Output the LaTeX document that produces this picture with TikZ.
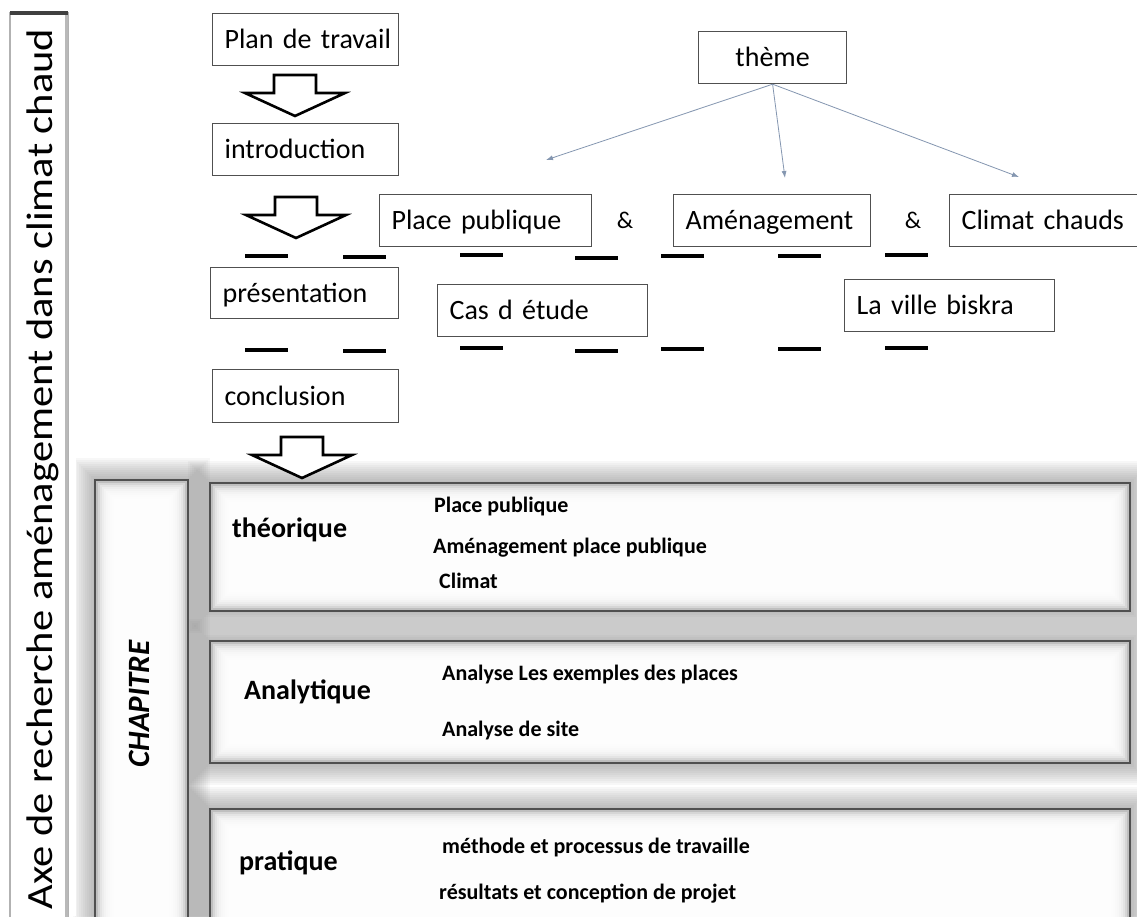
\documentclass[tikz,border=0pt]{standalone}
\usepackage{fontspec}
\setmainfont{Carlito}
\usetikzlibrary{arrows.meta}

\definecolor{bleugris}{HTML}{8496B0}
\definecolor{bordgris}{HTML}{505050}

\tikzset{
  boite/.style={draw=bordgris, line width=1.2pt, fill=white, anchor=north west,
    minimum height=52pt, inner xsep=12pt, inner ysep=0pt, align=left,
    font=\fontsize{28}{30}\selectfont, text height=21pt, text depth=3pt},
  titre/.style={anchor=base west, inner sep=0pt, font=\bfseries\fontsize{28}{30}\selectfont},
  item/.style={anchor=base west, inner sep=0pt, font=\bfseries\fontsize{22}{24}\selectfont},
  fine/.style={bleugris, line width=0.8pt, -{Latex[length=7pt,width=5pt]}},
  tiret/.style={line width=4pt},
  flechebas/.pic={\draw[line width=2.6pt, fill=white, line join=miter]
    (-21,0) -- (21,0) -- (21,18) -- (50,18) -- (0,41) -- (-50,18) -- (-21,18) -- cycle;}
}

% halo gris autour d'un cadre
\newcommand{\ombre}[4]{%
  \foreach \i in {2,4,...,22}
    \fill[gray, opacity=0.06] (#1-\i,#2-\i) rectangle (#3+\i,#4+\i);}
% cadre a bord flou
\newcommand{\cadre}[4]{%
  \fill[gray!50] (#1,#2) rectangle (#3,#4);
  \foreach \i in {3,5,...,19}
    \fill[white, opacity=0.36] (#1+\i,#2+\i) rectangle (#3-\i,#4-\i);
  \draw[bordgris, line width=1.3pt] (#1,#2) rectangle (#3,#4);}

\begin{document}
\begin{tikzpicture}[x=1pt, y=-1pt]
\useasboundingbox (0,0) rectangle (1137,916);
\clip (0,0) rectangle (1137,916);
\fill[white] (0,0) rectangle (1137,916);

% Chapitres
\ombre{95}{480}{188}{960}
\ombre{210}{483}{1130}{611}
\ombre{210}{641}{1130}{763}
\ombre{210}{809}{1130}{960}
\cadre{95}{480}{188}{960}
\cadre{210}{483}{1130}{611}
\cadre{210}{641}{1130}{763}
\cadre{210}{809}{1130}{960}

% Bande verticale de gauche
\fill[white] (0,0) rectangle (76,916);
\draw[gray!60, line width=1.2pt] (10,13) rectangle (68,940);
\draw[gray!55, line width=3pt] (66,15) -- (66,940);
\draw[black!75, line width=3.5pt] (10,13) -- (68,13);
\node[rotate=90, xscale=1.15, font=\fontsize{37}{40}\selectfont] (axe) at (43,469)
  {Axe de recherche aménagement dans climat chaud};

% Plan de travail
\node[boite, text width=162pt] (plan) at (212,13) {\mbox{Plan de travail}};
\pic at (295,75) {flechebas};
\node[boite, text width=162pt] (intro) at (212,123) {\mbox{introduction}};
\pic at (296,197) {flechebas};

% Theme
\node[boite, align=center, text width=124pt] (theme) at (698,31) {thème};
\coordinate (c1) at (546,160);
\coordinate (c2) at (785,178);
\coordinate (c3) at (1019,177);
\draw[fine] (theme.south) -- (c1);
\draw[fine] (theme.south) -- (c2);
\draw[fine] (theme.south) -- (c3);

\node[boite, text width=188pt] (place) at (379,194) {\mbox{Place publique}};
\node[anchor=base, inner sep=0pt, font=\fontsize{24}{26}\selectfont] (et1) at (625,228) {\&};
\node[boite, text width=173pt] (amen) at (673,194) {\mbox{Aménagement}};
\node[anchor=base, inner sep=0pt, font=\fontsize{24}{26}\selectfont] (et2) at (913,228) {\&};
\node[boite, text width=164pt] (climat) at (949,194) {\mbox{Climat chauds}};

% Tirets
\foreach \x/\dy in {245/0,343/1,460/-1,575/2,661/0,778/0,885/-1}
  \draw[tiret] (\x,256+\dy) -- ++(43,0);
\foreach \x/\dy in {245/0,343/1,460/-2,575/1,661/-1,778/-1,885/-2}
  \draw[tiret] (\x,350+\dy) -- ++(43,0);

\node[boite, text width=164pt, minimum height=51pt] (pres) at (210,267) {\mbox{présentation}};
\node[boite, text width=186pt] (cas) at (437,284) {\mbox{Cas d étude}};
\node[boite, text width=186pt] (ville) at (844,279) {\mbox{La ville biskra}};
\node[boite, text width=162pt, minimum height=53pt] (concl) at (212,369) {\mbox{conclusion}};

\pic at (302,437) {flechebas};

\node[rotate=90, inner sep=0pt, font=\bfseries\itshape\fontsize{31}{33}\selectfont] (chap) at (139,704) {CHAPITRE};

\node[titre] (theo) at (232,537) {théorique};
\node[item] (t1) at (434,512) {Place publique};
\node[item] (t2) at (433,553) {Aménagement place publique};
\node[item] (t3) at (439,588) {Climat};

\node[titre] (ana) at (244,699) {Analytique};
\node[item] (a1) at (442,680) {Analyse Les exemples des places};
\node[item] (a2) at (442,736) {Analyse de site};

\node[titre] (prat) at (239,870) {pratique};
\node[item] (p1) at (442,853) {méthode et processus de travaille};
\node[item] (p2) at (439,899) {résultats et conception de projet};

\end{tikzpicture}
\end{document}
